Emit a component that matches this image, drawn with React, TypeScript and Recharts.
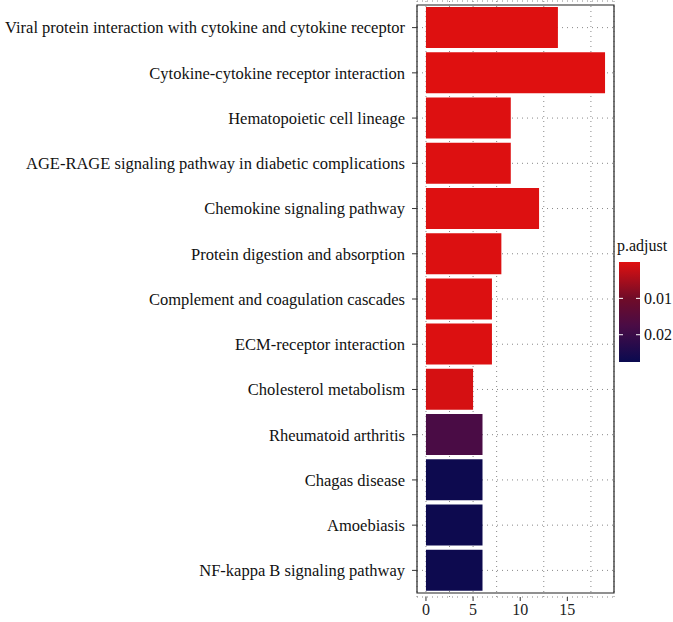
import React from 'react';
import { BarChart, Bar, Cell, XAxis, YAxis, CartesianGrid, ReferenceArea } from 'recharts';

// KEGG enrichment barplot, p.adjust colour scale
const pathways = [
  'Viral protein interaction with cytokine and cytokine receptor',
  'Cytokine-cytokine receptor interaction',
  'Hematopoietic cell lineage',
  'AGE-RAGE signaling pathway in diabetic complications',
  'Chemokine signaling pathway',
  'Protein digestion and absorption',
  'Complement and coagulation cascades',
  'ECM-receptor interaction',
  'Cholesterol metabolism',
  'Rheumatoid arthritis',
  'Chagas disease',
  'Amoebiasis',
  'NF-kappa B signaling pathway',
];
const counts = [14, 19, 9, 9, 12, 8, 7, 7, 5, 6, 6, 6, 6];
const pAdjust = [0.0002, 0.0001, 0.0003, 0.0003, 0.0003, 0.0004, 0.0004, 0.0004, 0.0010, 0.0175, 0.027, 0.027, 0.027];

const xTicks = [0, 5, 10, 15];
const gridTicks = [0, 2.5, 5, 7.5, 10, 12.5, 15, 17.5];
const legendTicks = [0.01, 0.02];

const P_MIN = 0;
const P_MAX = 0.0275;
const X_DOMAIN: [number, number] = [-0.95, 19.95];

// colour stops
const stops: [number, [number, number, number]][] = [
  [0, [224, 16, 16]],
  [0.01, [112, 12, 40]],
  [0.0175, [74, 12, 69]],
  [0.0275, [10, 10, 80]],
];

function pColor(p: number) {
  for (let i = 0; i < stops.length - 1; i++) {
    const [p0, c0] = stops[i];
    const [p1, c1] = stops[i + 1];
    if (p <= p1 || i === stops.length - 2) {
      const t = Math.max(0, Math.min(1, (p - p0) / (p1 - p0)));
      const c = c0.map((v, k) => Math.round(v + (c1[k] - v) * t));
      return `rgb(${c[0]},${c[1]},${c[2]})`;
    }
  }
  return 'red';
}

const data = pathways.map((name, i) => ({ name, count: counts[i], p: pAdjust[i] }));

const FONT = '"Liberation Serif", "DejaVu Serif", serif';

function ColorBar() {
  const top = 262;
  const bottom = 362;
  const left = 619;
  const right = 640;
  const yOf = (p: number) => top + ((p - P_MIN) / (P_MAX - P_MIN)) * (bottom - top);
  return (
    <svg width={673} height={622} style={{ position: 'absolute', left: 0, top: 0, pointerEvents: 'none' }}>
      <defs>
        <linearGradient id="pgrad" x1="0" y1="0" x2="0" y2="1">
          {stops.map(([p, c]) => (
            <stop key={p} offset={(p - P_MIN) / (P_MAX - P_MIN)} stopColor={`rgb(${c[0]},${c[1]},${c[2]})`} />
          ))}
        </linearGradient>
      </defs>
      <text x={617} y={251} fontFamily={FONT} fontSize={16} fill="#111">p.adjust</text>
      <rect x={left} y={top} width={right - left} height={bottom - top} fill="url(#pgrad)" />
      {legendTicks.map((t) => (
        <g key={t}>
          <line x1={left} x2={left + 4} y1={yOf(t)} y2={yOf(t)} stroke="#fff" strokeWidth={1} />
          <line x1={right - 4} x2={right} y1={yOf(t)} y2={yOf(t)} stroke="#fff" strokeWidth={1} />
          <text x={644} y={yOf(t)} dy="0.35em" fontFamily={FONT} fontSize={16} fill="#111">{t.toFixed(2)}</text>
        </g>
      ))}
    </svg>
  );
}

export default function App() {
  return (
    <div style={{ position: 'absolute', left: 0, top: 0, width: 673, height: 622, background: '#fff' }}>
      <BarChart
        width={673}
        height={622}
        data={data}
        layout="vertical"
        margin={{ top: 1, right: 59, bottom: 0, left: 0 }}
        barSize={41}
      >
        <CartesianGrid xAxisId="grid" stroke="#888" strokeDasharray="1 4" />
        <XAxis
          xAxisId="grid"
          type="number"
          domain={X_DOMAIN}
          ticks={gridTicks}
          allowDataOverflow
          hide
        />
        <XAxis
          type="number"
          domain={X_DOMAIN}
          ticks={xTicks}
          allowDataOverflow
          height={25}
          axisLine={false}
          tickSize={4}
          tickMargin={3}
          tickLine={{ stroke: '#333' }}
          tick={{ fontFamily: FONT, fontSize: 16, fill: '#222' }}
        />
        <YAxis
          type="category"
          dataKey="name"
          width={417}
          interval={0}
          padding={{ top: 4, bottom: 4 }}
          axisLine={false}
          tickSize={5}
          tickMargin={7}
          tickLine={{ stroke: '#333' }}
          tick={{ fontFamily: FONT, fontSize: 16.5, fill: '#111' }}
        />
        <Bar dataKey="count" isAnimationActive={false}>
          {data.map((d, i) => (
            <Cell key={i} fill={pColor(d.p)} />
          ))}
        </Bar>
        <ReferenceArea x1={X_DOMAIN[0]} x2={X_DOMAIN[1]} fill="none" stroke="#222" strokeWidth={1.2} ifOverflow="visible" />
      </BarChart>
      <ColorBar />
    </div>
  );
}
